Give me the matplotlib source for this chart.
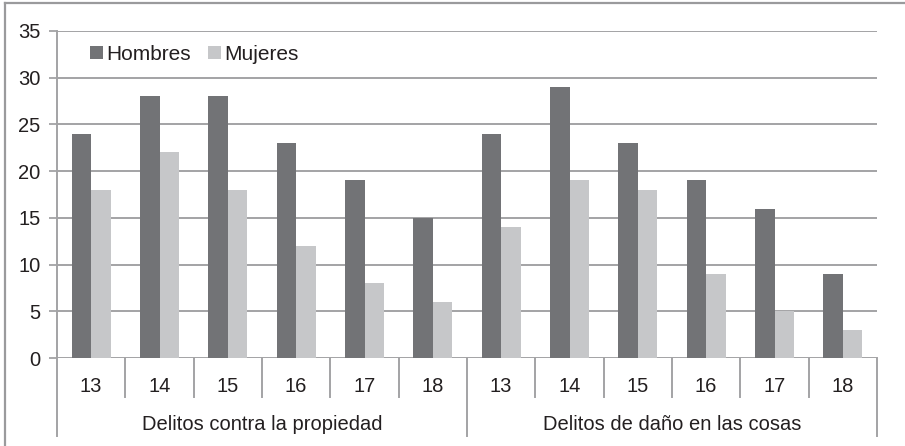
import matplotlib
matplotlib.use("Agg")
import matplotlib.pyplot as plt
from matplotlib.lines import Line2D
import numpy as np

plt.rcParams['font.family'] = ['Liberation Sans', 'DejaVu Sans']

groups = ["Delitos contra la propiedad", "Delitos de daño en las cosas"]
ages = ["13", "14", "15", "16", "17", "18"]
hombres = [24, 28, 28, 23, 19, 15, 24, 29, 23, 19, 16, 9]
mujeres = [18, 22, 18, 12, 8, 6, 14, 19, 18, 9, 5, 3]
yticks = [0, 5, 10, 15, 20, 25, 30, 35]

W, H = 905, 446
fig = plt.figure(figsize=(W / 100, H / 100), dpi=100)
L, R, T, B = 57, 877, 31, 358
ax = fig.add_axes([L / W, (H - B) / H, (R - L) / W, (B - T) / H])

c_h = "#727376"
c_m = "#c6c7c9"
grid_c = "#a3a3a5"
txt_c = "#231f20"
fs = 14.5

n = len(hombres)
x = np.arange(n)
bw = 0.285
ax.bar(x - bw / 2, hombres, bw, color=c_h, label="Hombres", zorder=3)
ax.bar(x + bw / 2, mujeres, bw, color=c_m, label="Mujeres", zorder=3)

ax.set_xlim(-0.5, n - 0.5)
ax.set_ylim(0, 35)
for s in ax.spines.values():
    s.set_visible(False)
ax.set_yticks(yticks)
ax.set_yticklabels([str(v) for v in yticks], fontsize=fs, color=txt_c)
ax.tick_params(axis='y', length=6, width=1.3, color=grid_c, pad=6)
ax.set_xticks([])
for v in yticks:
    ax.axhline(v, color=grid_c, lw=1.4, zorder=1)

trans = ax.get_xaxis_transform()
axh = B - T
def ypx(py):
    return (B - py) / axh

# left axis line extended
ax.plot([-0.5, -0.5], [1, ypx(436)], transform=trans, color=grid_c, lw=1.4, clip_on=False)
# separators
for i in range(1, n + 1):
    b = i - 0.5
    y2 = ypx(436) if i in (6, 12) else ypx(397)
    ax.plot([b, b], [0, y2], transform=trans, color=grid_c, lw=1.4, clip_on=False)

labels = ages * 2
for i, lab in enumerate(labels):
    ax.text(i, ypx(386), lab, transform=trans, ha='center', va='center', fontsize=fs, color=txt_c)
for g, name in enumerate(groups):
    ax.text(g * 6 + 2.5, ypx(425), name, transform=trans, ha='center', va='center', fontsize=fs, color=txt_c)

leg = ax.legend(loc='upper left', bbox_to_anchor=(0.024, 1.0), ncol=2, frameon=False,
                fontsize=15, handlelength=0.6, handleheight=0.6, handletextpad=0.15,
                columnspacing=0.85, borderaxespad=0.25)
for t in leg.get_texts():
    t.set_color(txt_c)

# outer frame (top and left)
fig.add_artist(Line2D([5 / W, 5 / W], [0, 1 - 3 / H], color="#9a9a9c", lw=1.6))
fig.add_artist(Line2D([5 / W, 1], [1 - 3 / H, 1 - 3 / H], color="#9a9a9c", lw=1.6))

fig.savefig("out.png", dpi=100)
